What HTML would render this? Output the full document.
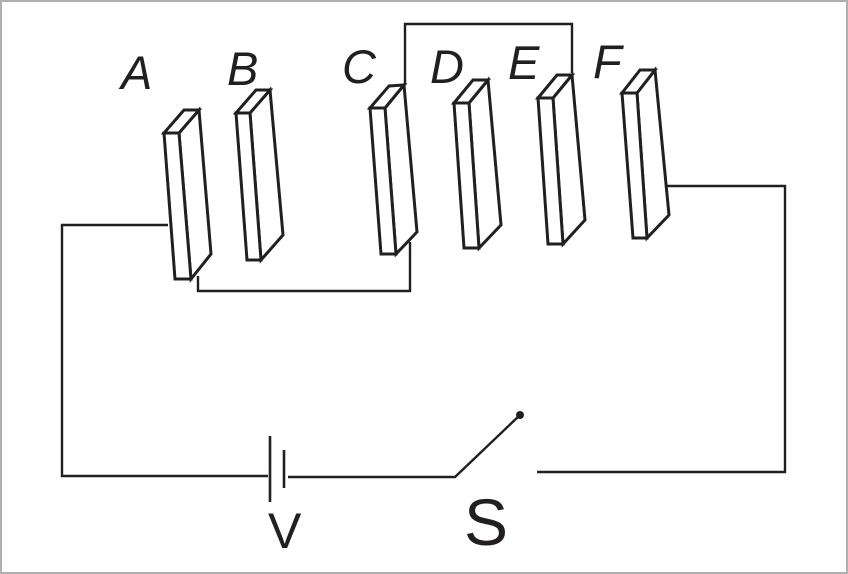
<!DOCTYPE html>
<html><head><style>
html,body{margin:0;padding:0;background:#fff}
svg{display:block}
text{font-family:"Liberation Sans",Arial,sans-serif;fill:#231f20}
</style></head><body>
<svg width="848" height="574" viewBox="0 0 848 574" xmlns="http://www.w3.org/2000/svg">
<rect x="1" y="1" width="846" height="572" fill="#fff" stroke="#b0b0b0" stroke-width="2"/>
<g fill="none" stroke="#231f20" stroke-width="2.4">
<polyline points="168,225 62,225 62,476 268,476"/>
<polyline points="288,477 455,477 520,415"/>
<polyline points="537,472 785,472 785,186 667,186"/>
<polyline points="198,276 198,291 410,291 410,242"/>
<polyline points="405,85 405,24 572,24 572,73"/>
<line x1="270" y1="436" x2="270" y2="502" stroke-width="2.6"/>
<line x1="284" y1="450" x2="284" y2="488" stroke-width="2.6"/>
</g>
<circle cx="520" cy="415" r="4" fill="#231f20"/>
<g fill="#fff" stroke="#231f20" stroke-width="3" stroke-linejoin="miter">
<g>
<polygon points="179,133 199,110 211,254 191,279"/>
<polygon points="164,133 184,110 199,110 179,133"/>
<polygon points="164,133 179,133 191,279 175,279"/>
</g>
<g>
<polygon points="250,113 270,90 283,235 261,260"/>
<polygon points="236,113 256,90 270,90 250,113"/>
<polygon points="236,113 250,113 261,260 247,260"/>
</g>
<g>
<polygon points="385,108 404,85 417,232 396,254"/>
<polygon points="370,108 389,86 404,85 385,108"/>
<polygon points="370,108 385,108 396,254 381,254"/>
</g>
<g>
<polygon points="469,103 488,80 501,225 479,248"/>
<polygon points="454,103 473,80 488,80 469,103"/>
<polygon points="454,103 469,103 479,248 464,248"/>
</g>
<g>
<polygon points="553,98 572,75 585,220 563,244"/>
<polygon points="538,98 557,75 572,75 553,98"/>
<polygon points="538,98 553,98 563,244 548,244"/>
</g>
<g>
<polygon points="637,93 655,70 669,215 647,238"/>
<polygon points="622,93 640,70 655,70 637,93"/>
<polygon points="622,93 637,93 647,238 633,238"/>
</g>
</g>
<g font-size="47" font-style="italic">
<text x="121" y="89">A</text>
<text x="227" y="85">B</text>
<text x="342" y="83">C</text>
<text x="430" y="83">D</text>
<text x="508" y="79">E</text>
<text x="593" y="78">F</text>
</g>
<text x="268" y="548" font-size="50">V</text>
<text x="464" y="545" font-size="66">S</text>
</svg>
</body></html>
